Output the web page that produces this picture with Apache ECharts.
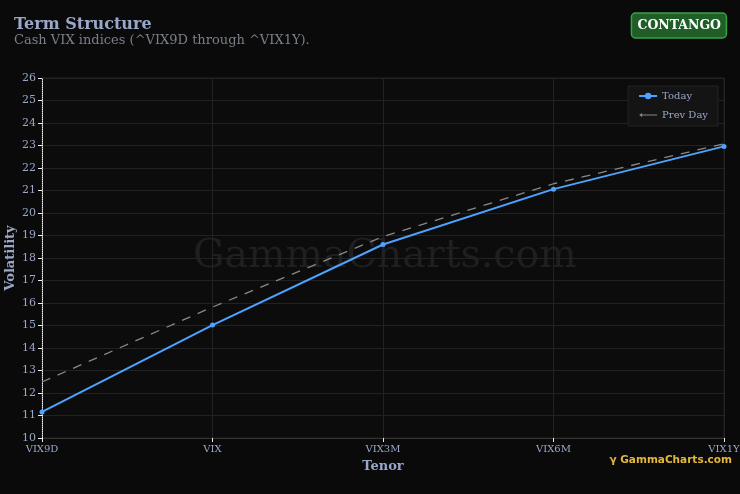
<!DOCTYPE html>
<html>
<head>
<meta charset="utf-8">
<script src="https://cdn.jsdelivr.net/npm/echarts@6/dist/echarts.min.js"></script>
<style>
html,body{margin:0;padding:0;background:#0a0a0a;}
#c{width:740px;height:494px;}
</style>
</head>
<body>
<div id="c"></div>
<script>
const tenors = ['VIX9D', 'VIX', 'VIX3M', 'VIX6M', 'VIX1Y'];
const today = [11.16, 15.02, 18.6, 21.06, 22.96];
const prevDay = [12.49, 15.82, 18.95, 21.3, 23.08];
const yTicks = { min: 10, max: 26, interval: 1 };

const serif = 'DejaVu Serif';
const chart = echarts.init(document.getElementById('c'), null, { renderer: 'canvas' });
chart.setOption({
  backgroundColor: '#0a0a0a',
  animation: false,
  title: [
    {
      text: 'Term Structure',
      subtext: 'Cash VIX indices (^VIX9D through ^VIX1Y).',
      left: 14, top: 17,
      padding: 0,
      itemGap: 1,
      textStyle: { fontFamily: serif, fontSize: 16, fontWeight: 'bold', color: '#9aa7c9' },
      subtextStyle: { fontFamily: serif, fontSize: 13, color: '#7a7f8a' }
    },
    {
      text: 'CONTANGO',
      right: 13, top: 13,
      padding: [6, 6, 6, 6],
      backgroundColor: '#1f5e27',
      borderColor: '#3aa048',
      borderWidth: 1.5,
      borderRadius: 4,
      textStyle: { fontFamily: serif, fontSize: 12.5, fontWeight: 'bold', color: '#ffffff' }
    }
  ],
  legend: {
    right: 22, top: 86,
    orient: 'vertical',
    backgroundColor: '#141414',
    borderColor: '#222',
    borderWidth: 1,
    padding: [5, 10, 6, 10],
    itemGap: 9,
    itemWidth: 18, itemHeight: 8,
    textStyle: { fontFamily: serif, fontSize: 10, color: '#9aa7c9' },
    data: [
      { name: 'Today' },
      { name: 'Prev Day', icon: 'path://M0,4 L3,2 L3,3.5 L18,3.5 L18,4.5 L3,4.5 L3,6 Z', itemStyle: { color: '#888' } }
    ]
  },
  grid: {
    left: 42, right: 16, top: 78, bottom: 56,
    outerBoundsMode: 'none',
    containLabel: false,
    show: true, backgroundColor: '#0c0c0c', borderColor: '#222', borderWidth: 1
  },
  xAxis: {
    type: 'category',
    data: tenors,
    boundaryGap: false,
    name: 'Tenor',
    nameLocation: 'middle',
    nameGap: 22,
    nameTextStyle: { fontFamily: serif, fontSize: 13, fontWeight: 'bold', color: '#9aa7c9' },
    axisLine: { lineStyle: { color: '#333' } },
    axisTick: { show: true, length: 4, lineStyle: { color: '#eee' } },
    axisLabel: { fontFamily: serif, fontSize: 10, color: '#9aa7c9', margin: 6 },
    splitLine: { show: true, lineStyle: { color: '#222' } }
  },
  yAxis: {
    type: 'value',
    min: yTicks.min, max: yTicks.max, interval: yTicks.interval,
    axisLine: { show: true, lineStyle: { color: '#eee', type: 'dotted' } },
    axisTick: { show: true, length: 4, lineStyle: { color: '#eee' } },
    axisLabel: { fontFamily: serif, fontSize: 11, color: '#9aa7c9', margin: 6 },
    splitLine: { show: true, lineStyle: { color: '#222' } }
  },
  graphic: [
    {
      type: 'text', left: 193, top: 237, z: 0,
      style: { text: 'GammaCharts.com', fontFamily: serif, fontSize: 39.5, fill: '#1f1f1f' },
      silent: true
    },
    {
      type: 'text', x: 11, y: 258, rotation: Math.PI / 2, z: 10,
      style: { text: 'Volatility', fontFamily: serif, fontSize: 13, fontWeight: 'bold', fill: '#9aa7c9', align: 'center', verticalAlign: 'middle' },
      silent: true
    },
    {
      type: 'text', right: 8, top: 455, z: 10,
      style: { text: 'γ GammaCharts.com', fontFamily: 'DejaVu Sans', fontSize: 10.5, fontWeight: 'bold', fill: '#e5b83a' },
      silent: true
    }
  ],
  series: [
    {
      name: 'Prev Day', type: 'line', data: prevDay,
      symbol: 'none',
      lineStyle: { color: '#888', width: 1.3, type: [9, 8] },
      itemStyle: { color: '#888' },
      z: 2
    },
    {
      name: 'Today', type: 'line', data: today,
      symbol: 'circle', symbolSize: 5,
      lineStyle: { color: '#4da3ff', width: 2 },
      itemStyle: { color: '#4da3ff' },
      z: 3
    }
  ]
});
</script>
</body>
</html>
